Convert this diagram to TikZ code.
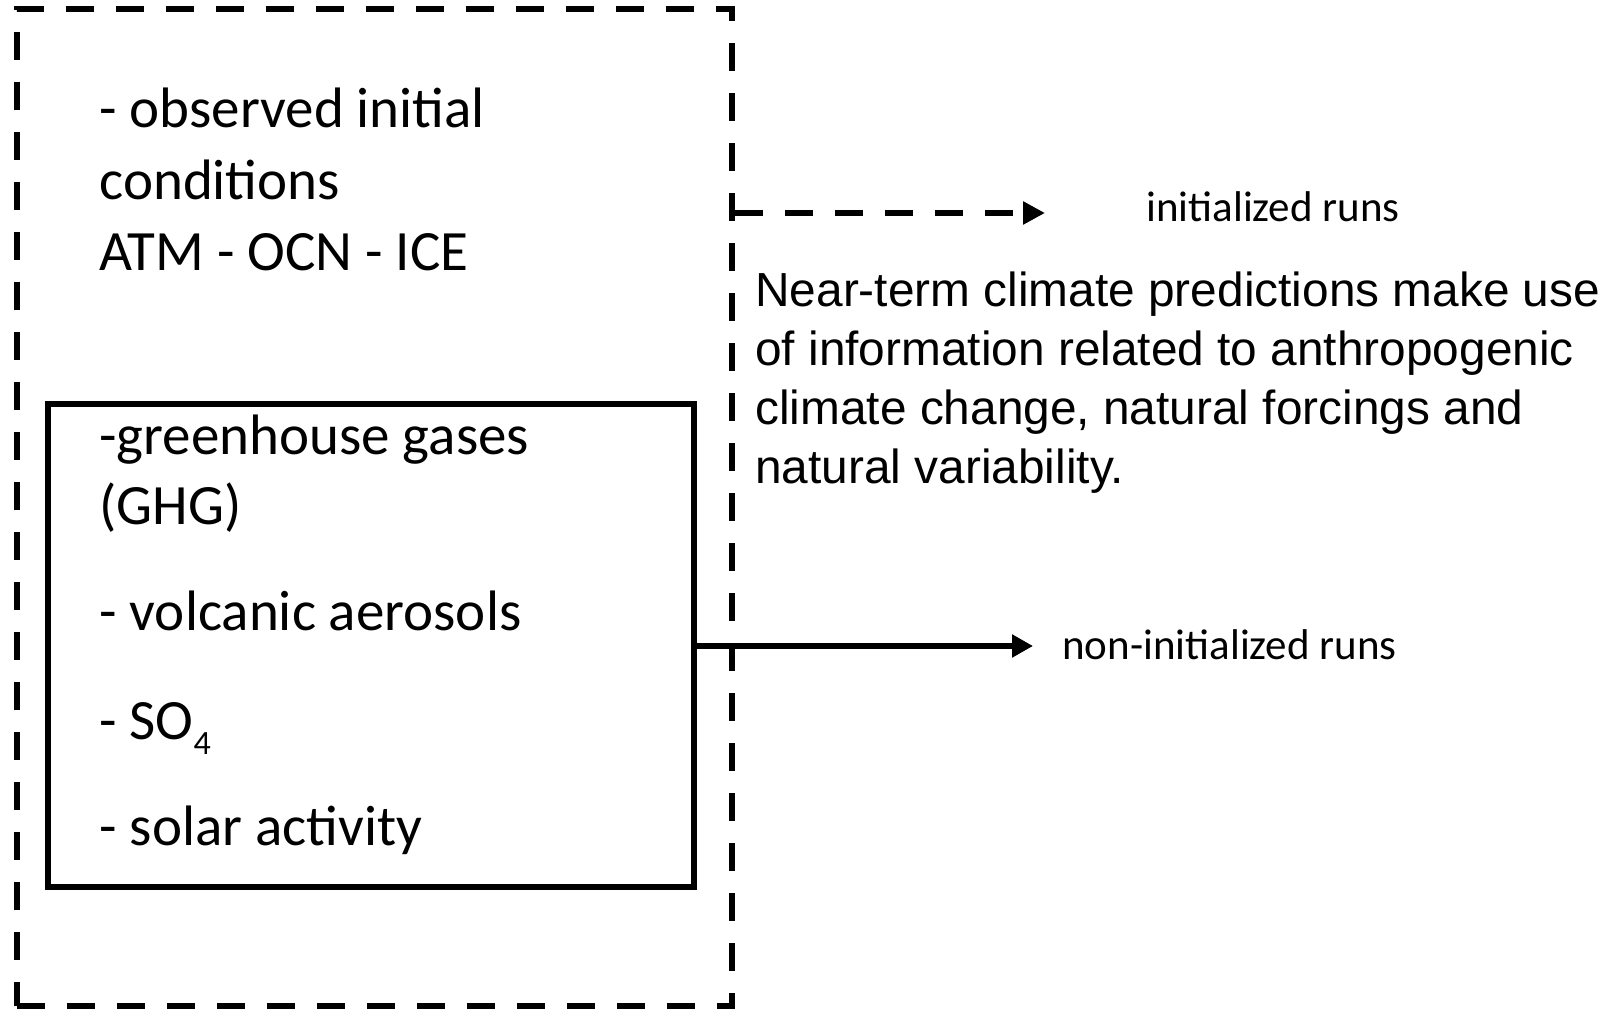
\documentclass[tikz,border=0pt]{standalone}
\usepackage{fontspec}
\setmainfont{Carlito}
\newfontfamily\arialfont{Liberation Sans}
\usetikzlibrary{arrows.meta}
\tikzset{
  outerbox/.style={draw, line width=3.3pt, dash pattern=on 14pt off 11pt, inner sep=0pt, minimum width=357.5pt, minimum height=498.5pt},
  innerbox/.style={draw, line width=3pt, inner sep=0pt, minimum width=323pt, minimum height=241.5pt},
  big/.style={anchor=base west, inner sep=0pt, font=\fontsize{28.5}{34}\selectfont},
  lbl/.style={anchor=base west, inner sep=0pt, font=\fontsize{21.5}{26}\selectfont},
  para/.style={anchor=base west, inner sep=0pt, font=\arialfont\fontsize{23.9}{29}\selectfont},
  dasharrow/.style={line width=3.2pt, dash pattern=on 14pt off 11pt, -{Triangle[length=11pt,width=11pt]}},
  solidarrow/.style={line width=3pt, -{Triangle[length=10.5pt,width=11pt]}}
}
\begin{document}
\begin{tikzpicture}[x=0.5pt, y=-0.5pt]
\useasboundingbox (0,0) rectangle (1612,1010);
% boxes
\node[outerbox] (outer) at (374.5,507.5) {};
\node[innerbox] (inner) at (371,645.5) {};
% initial conditions text
\node[big] (oc1) at (99,127.5) {- observed initial};
\node[big] (oc2) at (99,199.5) {conditions};
\node[big] (oc3) at (99,270.5) {ATM - OCN - ICE};
% forcings text
\node[big] (f1) at (99,455) {-greenhouse gases};
\node[big] (f2) at (99,524.5) {(GHG)};
\node[big] (f3) at (99,630.5) {- volcanic aerosols};
\node[big] (f4) at (99,739) {- SO\raisebox{-7.5pt}{\fontsize{17}{17}\selectfont 4}};
\node[big] (f5) at (99,845) {- solar activity};
% paragraph
\node[para] (p1) at (755,307) {Near-term climate predictions make use};
\node[para] (p2) at (755,366) {of information related to anthropogenic};
\node[para] (p3) at (755,425) {climate change, natural forcings and};
\node[para] (p4) at (755,484) {natural variability.};
% labels
\node[lbl] (ini) at (1146,222) {initialized runs};
\node[lbl] (nonini) at (1062,659) {non-initialized runs};
% connectors
\coordinate (dstart) at (outer.east |- 0,213);
\coordinate (dend) at (1045,213);
\coordinate (send) at (1033,646);
\draw[dasharrow] (dstart) -- (dend);
\draw[solidarrow] (inner.east |- send) -- (send);
\end{tikzpicture}
\end{document}
